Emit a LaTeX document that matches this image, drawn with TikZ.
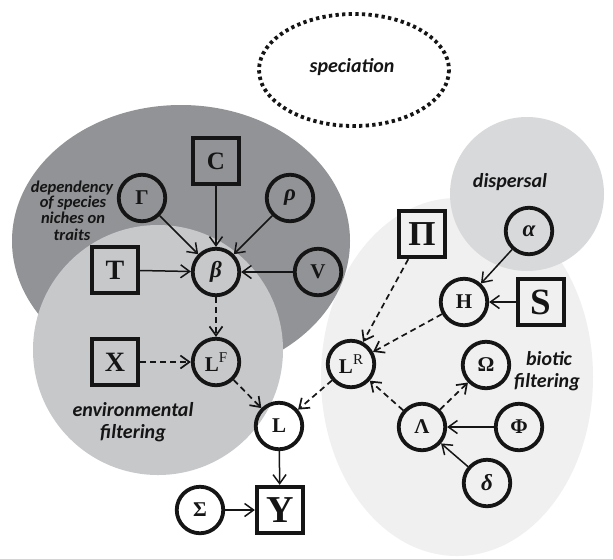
\documentclass[tikz,border=0pt]{standalone}
\usepackage{fontspec}
\setmainfont{Liberation Serif}
\newfontfamily\labfont{Carlito}
\usetikzlibrary{arrows.meta}
\definecolor{darkreg}{HTML}{929396}
\definecolor{envreg}{HTML}{C7C8CA}
\definecolor{dispreg}{HTML}{D8D9DB}
\definecolor{biotreg}{HTML}{F0F0F0}
\definecolor{ink}{HTML}{151515}
\begin{document}
\begin{tikzpicture}[x=1pt,y=-1pt,
  var/.style={circle,draw=ink,line width=3.8pt,minimum size=46.5pt,inner sep=0pt,text=ink,font=\fontsize{21}{21}\selectfont\bfseries},
  gvar/.style={var,font=\fontsize{23}{23}\selectfont\bfseries\itshape},
  obs/.style={rectangle,draw=ink,line width=3.8pt,minimum size=46.5pt,inner sep=0pt,text=ink},
  arr/.style={-{Straight Barb[length=9pt,width=13pt]},line width=1.5pt,draw=ink},
  darr/.style={arr,dash pattern=on 6pt off 4pt,line width=1.7pt},
  region/.style={font=\labfont\fontsize{20}{22}\selectfont\bfseries\itshape,text=ink,anchor=base,inner sep=0pt},
  deptext/.style={font=\labfont\fontsize{16.5}{16}\selectfont\bfseries\itshape,text=ink,anchor=base,inner sep=0pt},
]
\useasboundingbox (0,0) rectangle (613,558);
\fill[white] (0,0) rectangle (613,558);
% regions
\fill[biotreg] (457,377) ellipse [x radius=136, y radius=179];
\fill[dispreg] (527,194) circle [radius=77];
\fill[darkreg] (181,241) ellipse [x radius=169, y radius=136];
\fill[envreg] (158,350) circle [radius=125];
\draw[ink,line width=3.8pt,dash pattern=on 3.3pt off 3.3pt] (354,70) ellipse [x radius=95, y radius=56];
% region labels
\node[region] (spec) at (352,72) {speciation};
\node[region] (disp) at (510,187) {dispersal};
\node[region] (bio1) at (549,365) {biotic};
\node[region] (bio2) at (547,387) {filtering};
\node[region] (env1) at (133,416) {environmental};
\node[region] (env2) at (133,438) {filtering};
\node[deptext] (dep1) at (72,192) {dependency};
\node[deptext] (dep2) at (73,207) {of species};
\node[deptext] (dep3) at (73,223) {niches on};
\node[deptext] (dep4) at (72,240) {traits};
% nodes
\node[obs,font=\fontsize{25}{25}\selectfont\bfseries] (C) at (216,161) {C};
\node[var] (Gam) at (142,198) {Γ};
\node[gvar] (rho) at (290,198) {ρ};
\node[obs,font=\fontsize{28}{28}\selectfont\bfseries] (T) at (115,270) {T};
\node[gvar] (beta) at (216,272) {β};
\node[var] (V) at (318,272) {V};
\node[obs,font=\fontsize{28}{28}\selectfont\bfseries] (X) at (115,362) {X};
\node[var] (LF) at (216,362) {L\raisebox{8.5pt}{\fontsize{15}{15}\selectfont\mdseries F}};
\node[var] (L) at (279,426) {L};
\node[obs,font=\fontsize{38}{38}\selectfont\bfseries] (Y) at (280,510) {Y};
\node[var] (Sig) at (200,510) {Σ};
\node[var] (LR) at (351,364) {L\raisebox{8.5pt}{\fontsize{15}{15}\selectfont\mdseries R}};
\node[obs,font=\fontsize{35}{35}\selectfont\bfseries] (Pi) at (422,234) {Π};
\node[gvar] (alpha) at (529,231) {α};
\node[var] (H) at (464,302) {H};
\node[obs,font=\fontsize{37}{37}\selectfont\bfseries] (S) at (541,302) {S};
\node[var] (Om) at (486,365) {Ω};
\node[var] (Lam) at (422,427) {Λ};
\node[var] (Phi) at (519,427) {Φ};
\node[gvar] (del) at (487,483) {δ};
% connectors
\draw[arr] (Gam) -- (beta);
\draw[arr] (C) -- (beta);
\draw[arr] (rho) -- (beta);
\draw[arr] (T) -- (beta);
\draw[arr] (V) -- (beta);
\draw[darr] (beta) -- (LF);
\draw[darr] (X) -- (LF);
\draw[darr] (LF) -- (L);
\draw[darr] (LR) -- (L);
\draw[arr] (L) -- (Y);
\draw[arr] (Sig) -- (Y);
\draw[darr] (Pi) -- (LR);
\draw[darr] (H) -- (LR);
\draw[arr] (alpha) -- (H);
\draw[arr] (S) -- (H);
\draw[darr] (Lam) -- (LR);
\draw[darr] (Lam) -- (Om);
\draw[arr] (Phi) -- (Lam);
\draw[arr] (del) -- (Lam);
\end{tikzpicture}
\end{document}
